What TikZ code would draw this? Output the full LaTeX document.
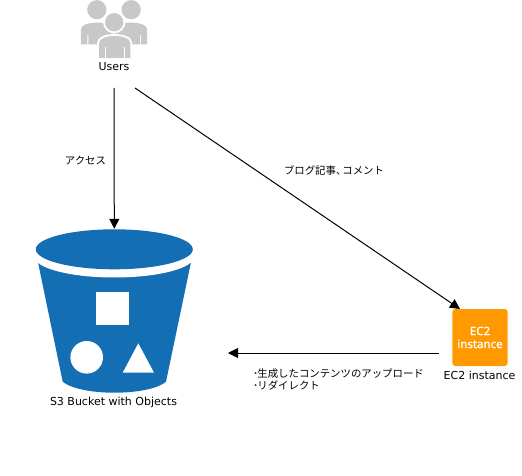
\documentclass[tikz,border=0pt]{standalone}
\usepackage{fontspec}
\setmainfont{DejaVu Sans}
\newfontfamily\jp{Noto Sans CJK JP}
\newfontfamily\ecfont[FakeBold=1.2]{Noto Sans}
\usetikzlibrary{arrows.meta}
\definecolor{bucketblue}{HTML}{146EB4}
\definecolor{ecorange}{HTML}{FF9900}
\definecolor{usergray}{HTML}{C7C8CA}
\tikzset{
  x=1pt,y=-1pt,
  lbl/.style={inner sep=0pt,font=\fontsize{11}{13}\selectfont,text=black},
  jplbl/.style={inner sep=0pt,align=left,font=\fontsize{10.4}{12}\selectfont\jp,text=black},
  arr/.style={line width=1pt,black,-{Triangle[length=10pt,width=10pt]}},
  white line/.style={draw=white,line width=1.8pt},
}
\begin{document}
\begin{tikzpicture}
\useasboundingbox (0,0) rectangle (522,476);
\fill[white] (0,0) rectangle (522,476);
% Users icon
\begin{scope}[fill=usergray]
  \fill (96.8,9.7) circle (9.6);
  \fill (131.2,9.7) circle (9.6);
  \fill (80.8,44.3) -- (80.8,30) .. controls (80.8,24.5) and (88,23) .. (97,22.5) .. controls (106,23) and (113.4,24.5) .. (113.4,30) -- (113.4,44.3) -- (107.5,44.3) -- (107.5,35) -- (106.5,35) -- (106.5,44.3) -- (88.3,44.3) -- (88.3,35) -- (87.3,35) -- (87.3,44.3) -- cycle;
  \fill (114.6,44.3) -- (114.6,30) .. controls (114.6,24.5) and (122,23) .. (131,22.5) .. controls (140,23) and (147.2,24.5) .. (147.2,30) -- (147.2,44.3) -- (141,44.3) -- (141,35) -- (140,35) -- (140,44.3) -- (122,44.3) -- (122,35) -- (121,35) -- (121,44.3) -- cycle;
  \filldraw[white line,fill=usergray] (114.2,22.2) circle (10.2);
  \filldraw[white line,fill=usergray] (98,59) -- (98,43) .. controls (98,37.5) and (106,35) .. (114.5,35) .. controls (123,35) and (131.3,37.5) .. (131.3,43) -- (131.3,59) -- cycle;
  \fill[white] (104.5,47) rectangle (105.5,58.5);
  \fill[white] (124,47) rectangle (125,58.5);
\end{scope}
\node[lbl] (users) at (114,67) {Users};
% Bucket
\node[inner sep=0pt,minimum width=157pt,minimum height=164pt] (bucket) at (114.3,311) {};
\fill[bucketblue] (36.7,256) -- (62.7,381.7) .. controls (70,388) and (90,392.7) .. (114.3,392.7) .. controls (139,392.7) and (159,388) .. (166,381.7) -- (192.3,256) -- cycle;
\fill[white] (114.3,256.5) ellipse [x radius=80,y radius=21];
\fill[bucketblue] (114.3,249.3) ellipse [x radius=78.5,y radius=20];
\fill[white] (96.3,292.3) rectangle (129,325.3);
\fill[white] (86.7,357.3) circle (16.3);
\fill[white] (138.3,343.3) -- (122.7,372.7) -- (154,372.7) -- cycle;
\node[lbl] (s3) at (113.5,402) {S3 Bucket with Objects};
% EC2
\node[fill=ecorange,rounded corners=3pt,minimum width=55.4pt,minimum height=57pt,inner sep=0pt,align=center,text=white,font=\fontsize{11.5}{13}\selectfont\ecfont] (ec2) at (480,337.5) {EC2\\instance};
\node[lbl] (ec2l) at (479.5,375) {EC2 instance};
% Connectors
\coordinate (a) at (114,88);
\coordinate (b) at (135,88);
\coordinate (c) at (460,309);
\coordinate (d) at (439,353);
\coordinate (e) at (228,353);
\draw[arr] (a) -- (bucket.north);
\draw[arr] (b) -- (c);
\draw[arr] (d) -- (e);
% Labels
\node[jplbl] (l1) at (85.5,160.5) {アクセス};
\node[jplbl] (l2) at (334,170.5) {ブログ記事、\hspace{-4pt}コメント};
\node[jplbl,anchor=north west] (l3) at (253,368.5) {･\hspace{-1pt}生成したコンテンツのアップロード\\･\hspace{-1pt}リダイレクト};
\end{tikzpicture}
\end{document}
